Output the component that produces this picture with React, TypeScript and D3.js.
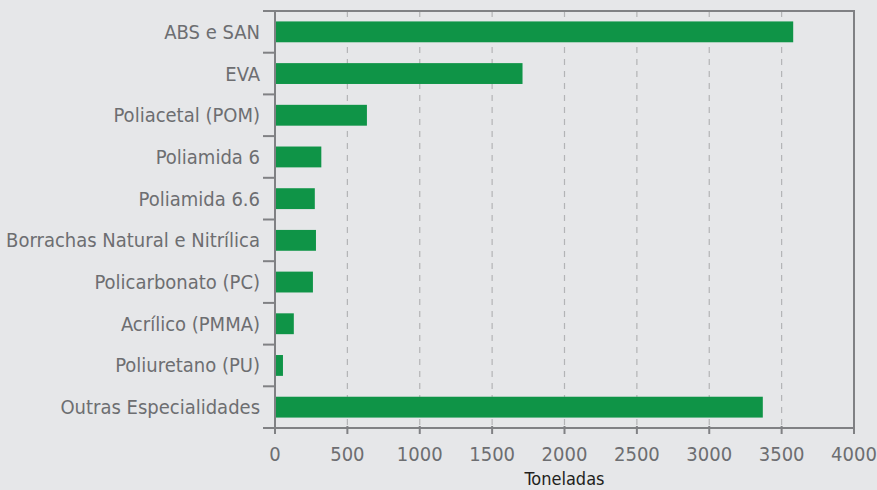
import * as d3 from 'd3';
import React, { useEffect, useRef } from 'react';

const categories = [
  'ABS e SAN',
  'EVA',
  'Poliacetal (POM)',
  'Poliamida 6',
  'Poliamida 6.6',
  'Borrachas Natural e Nitrílica',
  'Policarbonato (PC)',
  'Acrílico (PMMA)',
  'Poliuretano (PU)',
  'Outras Especialidades',
];
const toneladas = [3580, 1710, 635, 320, 275, 283, 262, 130, 55, 3370];
const xTicks = [0, 500, 1000, 1500, 2000, 2500, 3000, 3500, 4000];

const W = 877;
const H = 490;

export default function App() {
  const ref = useRef<SVGSVGElement>(null);

  useEffect(() => {
    const svg = d3.select(ref.current);
    svg.selectAll('*').remove();

    const margin = { top: 11, right: 23, bottom: 62, left: 275 };
    const width = W - margin.left - margin.right;
    const height = H - margin.top - margin.bottom;
    const font = "'Liberation Sans Narrow', 'DejaVu Sans Condensed', 'Roboto Condensed', sans-serif";
    const textColor = '#6d6e71';

    svg.append('rect').attr('width', W).attr('height', H).attr('fill', '#e6e7e9');

    const g = svg.append('g').attr('transform', `translate(${margin.left},${margin.top})`);

    const x = d3.scaleLinear().domain([0, 4000]).range([0, width]);
    const y = d3.scaleBand().domain(categories).range([0, height]).paddingInner(0.5).paddingOuter(0.25);

    // dashed grid
    g.append('g')
      .selectAll('line')
      .data(xTicks.slice(1, -1))
      .enter()
      .append('line')
      .attr('x1', (d) => x(d))
      .attr('x2', (d) => x(d))
      .attr('y1', 0)
      .attr('y2', height)
      .attr('stroke', '#b3b4b6')
      .attr('stroke-width', 1.2)
      .attr('stroke-dasharray', '6,6');

    // bars
    g.append('g')
      .selectAll('rect')
      .data(categories)
      .enter()
      .append('rect')
      .attr('x', 0)
      .attr('y', (d) => y(d) as number)
      .attr('width', (d, i) => x(toneladas[i]))
      .attr('height', y.bandwidth())
      .attr('fill', '#0f9447');

    // frame top/right
    g.append('path')
      .attr('d', `M0,0H${width}V${height}`)
      .attr('fill', 'none')
      .attr('stroke', '#808184')
      .attr('stroke-width', 2);

    // y axis with ticks at category boundaries
    const step = y.step();
    const yAx = g.append('g');
    yAx.append('line')
      .attr('x1', 0).attr('x2', 0).attr('y1', 0).attr('y2', height)
      .attr('stroke', '#808184').attr('stroke-width', 2);
    yAx.selectAll('.yt')
      .data(d3.range(0, categories.length + 1))
      .enter()
      .append('line')
      .attr('x1', -12).attr('x2', 0)
      .attr('y1', (i) => i * step).attr('y2', (i) => i * step)
      .attr('stroke', '#808184').attr('stroke-width', 2);
    yAx.selectAll('text')
      .data(categories)
      .enter()
      .append('text')
      .attr('x', -15)
      .attr('y', (d) => (y(d) as number) + y.bandwidth() / 2)
      .attr('dy', '0.35em')
      .attr('text-anchor', 'end')
      .attr('fill', textColor)
      .attr('font-family', font)
      .attr('font-size', 20)
      .text((d) => d);

    // x axis
    const xAx = g.append('g').attr('transform', `translate(0,${height})`);
    xAx.append('line')
      .attr('x1', 0).attr('x2', width)
      .attr('stroke', '#808184').attr('stroke-width', 2);
    xAx.selectAll('.xt')
      .data(xTicks)
      .enter()
      .append('line')
      .attr('x1', (d) => x(d)).attr('x2', (d) => x(d))
      .attr('y1', -2).attr('y2', 6)
      .attr('stroke', '#808184').attr('stroke-width', 2);
    xAx.selectAll('text')
      .data(xTicks)
      .enter()
      .append('text')
      .attr('x', (d) => x(d))
      .attr('y', 26)
      .attr('dy', '0.35em')
      .attr('text-anchor', 'middle')
      .attr('fill', textColor)
      .attr('font-family', font)
      .attr('font-size', 20)
      .text((d) => String(d));

    g.append('text')
      .attr('x', width / 2)
      .attr('y', height + 51)
      .attr('dy', '0.35em')
      .attr('text-anchor', 'middle')
      .attr('fill', '#231f20')
      .attr('font-family', font)
      .attr('font-size', 18)
      .text('Toneladas');
  }, []);

  return (
    <div style={{ position: 'absolute', left: 0, top: 0 }}>
      <svg ref={ref} width={W} height={H} style={{ display: 'block' }} />
    </div>
  );
}
